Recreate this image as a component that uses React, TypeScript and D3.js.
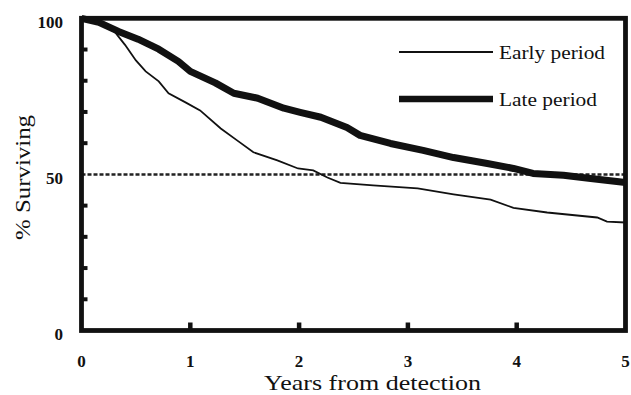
import React, { useEffect, useRef } from "react";
import * as d3 from "d3";

// survival curves: [years, % surviving]
const earlyYears = [0, 0.17, 0.31, 0.4, 0.5, 0.59, 0.71, 0.8, 0.96, 1.09, 1.28, 1.43, 1.58, 1.8, 1.99, 2.13, 2.26, 2.38, 2.68, 3.09, 3.42, 3.76, 3.97, 4.28, 4.74, 4.83, 5];
const earlySurv = [100, 98.7, 95.5, 91.5, 86.5, 83, 79.8, 76, 73, 70.5, 64.7, 60.9, 57.1, 54.5, 51.9, 51.3, 49, 47.3, 46.5, 45.5, 43.6, 41.9, 39.3, 37.8, 36.2, 34.9, 34.6];
const lateYears = [0, 0.16, 0.34, 0.52, 0.71, 0.89, 1.0, 1.23, 1.4, 1.62, 1.86, 2.01, 2.2, 2.44, 2.56, 2.84, 3.14, 3.42, 3.73, 3.97, 4.15, 4.43, 4.68, 5];
const lateSurv = [100, 98.7, 95.8, 93.3, 90.1, 86.2, 83, 79.3, 76, 74.4, 71.2, 69.9, 68.3, 65, 62.5, 59.9, 57.7, 55.4, 53.5, 51.9, 50.3, 49.7, 48.7, 47.4];
const xTicks = [0, 1, 2, 3, 4, 5];
const yLabels = [0, 50, 100];
const yMinor = [10, 20, 30, 40, 60, 70, 80, 90];
const seriesNames = ["Early period", "Late period"];

export default function App() {
  const ref = useRef<SVGSVGElement>(null);

  useEffect(() => {
    const svg = d3.select(ref.current);
    svg.selectAll("*").remove();
    const x = d3.scaleLinear().domain([0, 5]).range([81.5, 625.5]);
    const y = d3.scaleLinear().domain([0, 100]).range([330.5, 18.3]);
    const serif = "'Liberation Serif', 'Times New Roman', serif";

    const line = d3
      .line<[number, number]>()
      .x((d) => x(d[0]))
      .y((d) => y(d[1]));

    // 50% reference line
    svg
      .append("line")
      .attr("x1", x(0))
      .attr("x2", x(5))
      .attr("y1", y(50))
      .attr("y2", y(50))
      .attr("stroke", "#222")
      .attr("stroke-width", 2.5)
      .attr("stroke-dasharray", "4,2");

    const early = earlyYears.map((t, i) => [t, earlySurv[i]] as [number, number]);
    const late = lateYears.map((t, i) => [t, lateSurv[i]] as [number, number]);

    svg
      .append("path")
      .attr("d", line(late))
      .attr("fill", "none")
      .attr("stroke", "#111")
      .attr("stroke-width", 7)
      .attr("stroke-linejoin", "round");
    svg
      .append("path")
      .attr("d", line(early))
      .attr("fill", "none")
      .attr("stroke", "#111")
      .attr("stroke-width", 1.8);

    // frame
    svg
      .append("rect")
      .attr("x", x(0))
      .attr("y", y(100))
      .attr("width", x(5) - x(0))
      .attr("height", y(0) - y(100))
      .attr("fill", "none")
      .attr("stroke", "#111")
      .attr("stroke-width", 4.8);

    // minor ticks on left axis
    svg
      .selectAll(".ytick")
      .data(yMinor)
      .enter()
      .append("line")
      .attr("x1", x(0))
      .attr("x2", x(0) + 6)
      .attr("y1", (d) => y(d))
      .attr("y2", (d) => y(d))
      .attr("stroke", "#111")
      .attr("stroke-width", 4);
    svg
      .selectAll(".xtick")
      .data(xTicks.slice(1, 5))
      .enter()
      .append("line")
      .attr("x1", (d) => x(d))
      .attr("x2", (d) => x(d))
      .attr("y1", y(0))
      .attr("y2", y(0) - 8)
      .attr("stroke", "#111")
      .attr("stroke-width", 4.5);

    // tick labels
    svg
      .selectAll(".ylab")
      .data(yLabels)
      .enter()
      .append("text")
      .attr("x", 63)
      .attr("y", (d) => y(d) + 4)
      .attr("dominant-baseline", "central")
      .attr("text-anchor", "end")
      .attr("font-family", serif)
      .attr("font-weight", "bold")
      .attr("font-size", 17)
      .attr("fill", "#111")
      .text((d) => d);
    svg
      .selectAll(".xlab")
      .data(xTicks)
      .enter()
      .append("text")
      .attr("x", (d) => x(d))
      .attr("y", 361)
      .attr("dominant-baseline", "central")
      .attr("text-anchor", "middle")
      .attr("font-family", serif)
      .attr("font-weight", "bold")
      .attr("font-size", 17)
      .attr("fill", "#111")
      .text((d) => d);

    svg
      .append("text")
      .attr("x", 264)
      .attr("y", 382)
      .attr("dominant-baseline", "central")
      .attr("font-family", serif)
      .attr("font-size", 22)
      .attr("textLength", 217)
      .attr("lengthAdjust", "spacingAndGlyphs")
      .attr("fill", "#111")
      .text("Years from detection");
    svg
      .append("text")
      .attr("transform", "translate(22,240) rotate(-90)")
      .attr("dominant-baseline", "central")
      .attr("font-family", serif)
      .attr("font-size", 22)
      .attr("textLength", 125)
      .attr("lengthAdjust", "spacingAndGlyphs")
      .attr("fill", "#111")
      .text("% Surviving");

    // legend
    const legend = svg
      .selectAll(".legend")
      .data(seriesNames)
      .enter()
      .append("g")
      .attr("transform", (d, i) => `translate(399, ${52 + i * 47})`);
    legend
      .append("line")
      .attr("x1", 0)
      .attr("x2", 94)
      .attr("stroke", "#111")
      .attr("stroke-width", (d, i) => (i === 0 ? 1.8 : 6.5));
    legend
      .append("text")
      .attr("x", 100)
      .attr("y", 0)
      .attr("dominant-baseline", "central")
      .attr("font-family", serif)
      .attr("font-size", 19)
      .attr("textLength", (d, i) => (i === 0 ? 106 : 98))
      .attr("lengthAdjust", "spacingAndGlyphs")
      .attr("fill", "#111")
      .text((d) => d);
  }, []);

  return (
    <svg
      ref={ref}
      width={631}
      height={395}
      style={{ position: "absolute", left: 0, top: 0, background: "#fff" }}
    />
  );
}
